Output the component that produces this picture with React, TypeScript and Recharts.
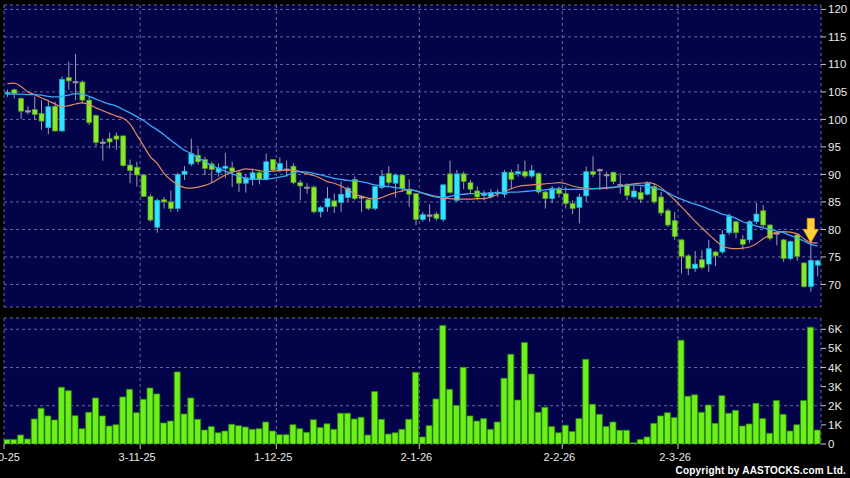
import {
  ComposedChart,
  Bar,
  Line,
  XAxis,
  YAxis,
  CartesianGrid,
  ReferenceDot,
} from "recharts";

// trading days, d-m-yy
const dates = [
  "2-10-25", "3-10-25", "6-10-25", "8-10-25", "9-10-25", "10-10-25", "13-10-25", "14-10-25", "15-10-25", "16-10-25",
  "17-10-25", "20-10-25", "21-10-25", "22-10-25", "23-10-25", "24-10-25", "27-10-25", "28-10-25", "30-10-25", "31-10-25",
  "3-11-25", "4-11-25", "5-11-25", "6-11-25", "7-11-25", "10-11-25", "11-11-25", "12-11-25", "13-11-25", "14-11-25",
  "17-11-25", "18-11-25", "19-11-25", "20-11-25", "21-11-25", "24-11-25", "25-11-25", "26-11-25", "27-11-25", "28-11-25",
  "1-12-25", "2-12-25", "3-12-25", "4-12-25", "5-12-25", "8-12-25", "9-12-25", "10-12-25", "11-12-25", "12-12-25",
  "15-12-25", "16-12-25", "17-12-25", "18-12-25", "19-12-25", "22-12-25", "23-12-25", "24-12-25", "29-12-25", "30-12-25",
  "31-12-25", "2-1-26", "5-1-26", "6-1-26", "7-1-26", "8-1-26", "9-1-26", "12-1-26", "13-1-26", "14-1-26",
  "15-1-26", "16-1-26", "19-1-26", "20-1-26", "21-1-26", "22-1-26", "23-1-26", "26-1-26", "27-1-26", "28-1-26",
  "29-1-26", "30-1-26", "2-2-26", "3-2-26", "4-2-26", "5-2-26", "6-2-26", "9-2-26", "10-2-26", "11-2-26",
  "12-2-26", "13-2-26", "16-2-26", "20-2-26", "23-2-26", "24-2-26", "25-2-26", "26-2-26", "27-2-26", "2-3-26",
  "3-3-26", "4-3-26", "5-3-26", "6-3-26", "9-3-26", "10-3-26", "11-3-26", "12-3-26", "13-3-26", "16-3-26",
  "17-3-26", "18-3-26", "19-3-26", "20-3-26", "23-3-26", "24-3-26", "25-3-26", "26-3-26", "27-3-26", "30-3-26",
];

const opens = [
  104.6, 105.4, 103.8, 101.6, 101.8, 101.1, 98.5, 102.4, 97.9, 107.6,
  106.9, 106.8, 103.5, 100.7, 95.9, 96.5, 97.0, 97.0, 91.7, 91.3,
  89.9, 86.0, 80.4, 85.4, 85.0, 83.8, 90.0, 91.9, 93.5, 92.7,
  91.9, 90.4, 91.1, 91.2, 90.3, 88.4, 89.1, 90.3, 89.1, 92.7,
  90.7, 91.0, 91.5, 88.5, 87.7, 87.7, 83.2, 84.1, 85.2, 84.9,
  85.8, 89.1, 85.95, 85.4, 83.8, 87.6, 90.2, 88.4, 89.9, 87.3,
  86.5, 81.8, 82.5, 82.8, 81.8, 90.1, 85.3, 90.1, 88.5, 87.0,
  86.2, 85.9, 86.5, 86.4, 90.4, 90.1, 90.5, 89.7, 90.2, 86.8,
  85.6, 87.5, 86.5, 84.7, 84.0, 86.1, 90.5, 90.9, 89.9, 90.4,
  88.2, 88.1, 85.9, 86.7, 86.4, 87.8, 85.9, 83.4, 81.6, 78.1,
  75.2, 72.9, 74.5, 73.7, 75.9, 75.9, 79.4, 81.4, 78.2, 78.1,
  81.4, 83.4, 80.8, 79.4, 78.1, 74.7, 79.0, 73.9, 69.6, 73.5,
];

const highs = [
  105.4, 105.6, 104.0, 102.4, 104.2, 103.5, 103.5, 103.2, 107.8, 110.5,
  111.9, 107.1, 104.1, 100.9, 96.5, 97.6, 97.6, 97.1, 92.7, 92.3,
  90.0, 86.4, 85.6, 85.9, 87.1, 90.3, 91.5, 96.5, 94.7, 93.2,
  92.3, 92.0, 93.9, 92.3, 90.6, 90.0, 91.1, 90.6, 93.8, 92.8,
  93.1, 92.5, 92.0, 89.0, 88.4, 88.0, 84.3, 87.7, 86.5, 88.7,
  87.8, 89.6, 86.2, 85.6, 88.0, 90.8, 91.5, 90.2, 90.1, 89.1,
  86.6, 83.2, 84.6, 83.2, 88.3, 92.5, 90.8, 90.5, 89.0, 87.8,
  87.1, 87.3, 87.3, 90.8, 90.9, 91.9, 92.5, 91.7, 90.4, 87.0,
  87.9, 87.8, 87.8, 85.3, 86.5, 91.4, 93.3, 91.1, 90.5, 90.5,
  90.2, 88.4, 88.1, 87.8, 88.7, 88.4, 86.8, 83.8, 83.2, 78.3,
  75.5, 76.1, 76.2, 78.1, 76.1, 79.9, 82.9, 81.6, 79.0, 81.7,
  84.8, 84.4, 81.0, 79.6, 78.3, 78.0, 79.3, 74.1, 78.7, 74.5,
];

const lows = [
  104.1, 103.8, 100.1, 100.9, 99.9, 98.1, 97.3, 97.8, 97.8, 105.4,
  103.5, 102.9, 99.0, 95.1, 92.5, 94.7, 94.5, 91.4, 88.4, 87.8,
  85.9, 81.4, 79.4, 83.8, 83.2, 83.2, 89.0, 91.5, 91.8, 89.9,
  88.5, 89.6, 89.3, 87.7, 86.8, 86.7, 88.0, 88.2, 88.9, 90.5,
  90.4, 89.6, 88.2, 85.3, 86.5, 82.9, 82.2, 83.2, 83.0, 83.2,
  85.0, 85.3, 83.2, 83.5, 83.5, 87.3, 88.0, 85.8, 86.8, 84.1,
  80.8, 81.4, 81.4, 81.6, 81.4, 86.5, 85.0, 87.3, 86.5, 85.3,
  85.3, 85.6, 85.9, 85.8, 87.3, 89.6, 89.3, 89.3, 86.5, 83.8,
  84.8, 85.8, 83.8, 82.8, 81.1, 85.0, 89.5, 87.2, 87.2, 88.2,
  86.5, 85.3, 85.6, 84.8, 86.2, 84.7, 82.5, 80.5, 78.1, 72.0,
  71.7, 72.3, 72.8, 72.3, 73.3, 75.6, 79.0, 78.4, 76.3, 77.5,
  81.0, 80.4, 78.0, 77.1, 74.1, 74.4, 74.3, 69.4, 68.7, 71.5,
];

const closes = [
  104.9, 104.7, 101.5, 101.5, 100.9, 99.7, 102.3, 97.9, 107.3, 107.0,
  106.8, 103.5, 99.4, 95.8, 95.7, 95.9, 96.4, 91.6, 90.7, 89.9,
  86.0, 81.7, 85.3, 85.0, 83.8, 90.0, 90.6, 93.8, 92.3, 91.1,
  90.9, 91.2, 91.5, 90.5, 88.4, 89.4, 90.3, 89.1, 92.3, 90.8,
  92.0, 90.85, 88.5, 87.9, 87.5, 83.2, 84.0, 85.6, 84.2, 86.4,
  87.5, 85.6, 85.8, 83.8, 87.8, 89.7, 88.5, 89.9, 87.4, 86.4,
  81.8, 82.7, 82.65, 82.0, 88.1, 86.7, 90.1, 88.7, 87.3, 85.9,
  86.5, 86.7, 86.8, 90.4, 89.1, 90.5, 89.7, 90.7, 86.8, 85.6,
  87.5, 86.5, 84.7, 83.8, 85.9, 90.5, 90.0, 90.7, 90.0, 88.7,
  88.0, 86.2, 87.0, 85.5, 88.4, 85.0, 83.0, 80.8, 78.7, 75.1,
  72.9, 73.7, 73.1, 76.5, 75.2, 79.1, 82.4, 79.4, 77.3, 81.4,
  82.8, 80.8, 78.4, 79.2, 74.7, 77.8, 75.1, 69.6, 74.4, 74.3,
];

// 10-day (orange) and 20-day (blue) moving averages
const ma10 = [
  106.5, 106.6, 106.0, 105.0, 104.5, 103.9, 103.4, 102.8, 102.3, 102.5,
  102.8, 103.0, 102.7, 102.1, 101.6, 101.1, 100.6, 100.2, 99.2, 97.2,
  95.2, 93.2, 92.0, 90.2, 89.0, 88.2, 87.6, 87.5, 87.7, 88.0,
  88.5, 89.2, 89.9, 90.4, 90.7, 91.0, 90.9, 90.7, 90.5, 90.6,
  90.7, 90.8, 90.8, 90.5, 90.1, 89.8, 89.3, 88.7, 88.4, 87.9,
  87.2, 86.5, 86.0, 85.7, 85.5, 85.8, 86.3, 86.7, 87.0, 87.3,
  87.0, 86.6, 86.2, 85.9, 85.7, 85.6, 85.5, 85.5, 85.5, 85.6,
  85.6, 85.9, 86.4, 86.9, 87.4, 87.8, 88.0, 88.1, 88.2, 88.3,
  88.4, 88.5, 88.3, 87.9, 87.6, 87.5, 87.4, 87.4, 87.5, 87.6,
  87.8, 88.1, 88.3, 88.4, 88.5, 88.3, 87.6, 86.5, 85.4, 84.1,
  82.8, 81.5, 80.3, 79.1, 78.0, 77.0, 76.6, 76.5, 76.6, 76.8,
  77.4, 78.3, 79.0, 79.5, 79.6, 79.5, 79.2, 78.3, 77.6, 77.5,
];

const ma20 = [
  104.7, 104.6, 104.6, 104.5, 104.5, 104.4, 104.2, 104.1, 104.2, 104.4,
  104.7, 104.6, 104.2, 103.7, 103.2, 102.8, 102.4, 101.8, 101.2, 100.5,
  99.8, 98.9, 98.1, 97.2, 96.2, 95.3, 94.4, 93.8, 93.0, 92.3,
  91.6, 91.1, 90.6, 90.1, 89.7, 89.3, 89.1, 89.1, 89.1, 89.3,
  89.5, 89.8, 90.3, 90.5, 90.4, 90.2, 89.9, 89.6, 89.3, 89.1,
  88.9, 88.8, 88.7, 88.4, 88.1, 87.9, 87.8, 87.6, 87.4, 87.2,
  87.0, 86.6, 86.3, 86.0, 85.8, 86.0, 86.3, 86.4, 86.5, 86.5,
  86.6, 86.6, 86.7, 86.7, 86.8, 86.8, 86.9, 87.0, 87.1, 87.2,
  87.3, 87.3, 87.3, 87.3, 87.3, 87.3, 87.4, 87.5, 87.6, 87.7,
  87.8, 88.0, 88.1, 88.0, 87.8, 87.5, 87.2, 86.7, 86.0, 85.5,
  85.0, 84.6, 84.2, 83.7, 83.3, 82.8, 82.5, 82.0, 81.4, 81.0,
  80.6, 80.3, 80.0, 79.7, 79.4, 78.9, 78.4, 77.9, 77.3, 77.0,
];

const volumes = [
  240, 240, 470, 260, 1310, 1870, 1470, 1260, 2970, 2790,
  1480, 800, 1660, 2410, 1470, 940, 1010, 2460, 2860, 1640,
  2340, 2930, 2620, 1100, 1200, 3770, 1570, 2410, 1290, 730,
  910, 590, 680, 1030, 960, 890, 770, 800, 1150, 680,
  490, 490, 1010, 800, 610, 1270, 860, 1060, 770, 1610,
  1610, 1310, 1400, 470, 2740, 1290, 520, 590, 770, 1290,
  3750, 370, 960, 2360, 6200, 2860, 2020, 4010, 1470, 1200,
  1330, 770, 1150, 3440, 4690, 2300, 5310, 3660, 1660, 1920,
  910, 590, 980, 650, 1330, 4430, 2080, 1550, 910, 1150,
  720, 720, 70, 240, 370, 1080, 1470, 1640, 1380, 5430,
  2500, 2570, 1660, 2040, 1080, 2530, 1610, 1760, 940, 1050,
  2130, 1330, 560, 2270, 1550, 680, 1010, 2270, 6110, 730,
];

const tickLabels = ["2-10-25", "3-11-25", "1-12-25", "2-1-26", "2-2-26", "2-3-26"];
const priceTicks = [70, 75, 80, 85, 90, 95, 100, 105, 110, 115, 120];
const volumeTicks = [0, 1000, 2000, 3000, 4000, 5000, 6000];
const arrowDate = "27-3-26";
const arrowPrice = 82;

const rows = dates.map((date, i) => ({
  idx: i,
  date,
  open: opens[i],
  high: highs[i],
  low: lows[i],
  close: closes[i],
  ma10: ma10[i],
  ma20: ma20[i],
  volume: volumes[i],
}));

const dateTicks = tickLabels.map((l) => dates.indexOf(l));

const BG = "#03034a";
const GRID = "#6a6a9c";
const TEXT = "#e8e8e8";

const Candle = (props: any) => {
  const { x, y, width, height, payload } = props;
  const { open, close, high, low } = payload;
  const top0 = Math.min(y, y + height);
  const h = Math.abs(height);
  const per = high > low ? h / (high - low) : 0;
  const yOf = (v: number) => top0 + (high - v) * per;
  const cx = x + width / 2;
  const bTop = yOf(Math.max(open, close));
  const bBot = yOf(Math.min(open, close));
  const flat = Math.abs(close - open) < 0.25;
  const up = close > open;
  const fill = flat ? "#a4a4b0" : up ? "#35e2ff" : "#86e82e";
  const edge = flat ? "#8a8a96" : up ? "#1aa8c8" : "#4f9a1e";
  return (
    <g>
      <line x1={cx} x2={cx} y1={top0} y2={top0 + h} stroke="#9c9cb2" strokeWidth={1} />
      <rect
        x={x}
        y={bTop}
        width={width}
        height={Math.max(1.5, bBot - bTop)}
        fill={fill}
        stroke={edge}
        strokeWidth={0.7}
      />
    </g>
  );
};

const Arrow = (props: any) => {
  const { cx, cy } = props;
  return (
    <path
      d={`M${cx - 3.5},${cy} h7 v11 h4 l-7.5,13 l-7.5,-13 h4 z`}
      fill="#ffd23c"
      stroke="#f0a000"
      strokeWidth={1}
    />
  );
};

export default function App() {
  return (
    <div
      style={{
        position: "absolute",
        left: 0,
        top: 0,
        width: 850,
        height: 478,
        background: "#000",
        overflow: "hidden",
        fontFamily: "'Liberation Sans', Arial, sans-serif",
      }}
    >
      <div style={{ position: "absolute", left: 0, top: 0 }}>
        <ComposedChart
          width={850}
          height={312}
          data={rows}
          margin={{ top: 5, right: 0, bottom: 5, left: 4 }}
        >
          <CartesianGrid
            xAxisId="num"
            stroke={GRID}
            strokeDasharray="3 3"
            fill={BG}
            fillOpacity={1}
          />
          <XAxis
            xAxisId="num"
            type="number"
            dataKey="idx"
            domain={[0, dates.length]}
            ticks={dateTicks}
            allowDataOverflow
            height={0}
            hide
          />
          <XAxis xAxisId="cat" dataKey="date" height={0} hide />
          <YAxis
            orientation="right"
            width={29}
            domain={[65.9, 120.8]}
            allowDataOverflow
            ticks={priceTicks}
            axisLine={false}
            tickSize={5}
            tickMargin={2}
            tickLine={{ stroke: "#c8c8c8" }}
            tick={{ fill: TEXT, fontSize: 11.5 }}
          />
          <Bar
            xAxisId="cat"
            dataKey={(d: any) => [d.low, d.high]}
            shape={Candle}
            barSize={5}
            isAnimationActive={false}
          />
          <Line
            xAxisId="cat"
            type="monotone"
            dataKey="ma10"
            stroke="#e2895e"
            strokeWidth={1.2}
            dot={false}
            isAnimationActive={false}
          />
          <Line
            xAxisId="cat"
            type="monotone"
            dataKey="ma20"
            stroke="#3aaaf0"
            strokeWidth={1.3}
            dot={false}
            isAnimationActive={false}
          />
          <ReferenceDot xAxisId="cat" x={arrowDate} y={arrowPrice} shape={Arrow} />
        </ComposedChart>
      </div>

      <div style={{ position: "absolute", left: 0, top: 312 }}>
        <ComposedChart
          width={850}
          height={166}
          data={rows}
          margin={{ top: 6, right: 0, bottom: 0, left: 4 }}
        >
          <CartesianGrid
            xAxisId="num"
            stroke={GRID}
            strokeDasharray="3 3"
            fill={BG}
            fillOpacity={1}
          />
          <XAxis
            xAxisId="num"
            type="number"
            dataKey="idx"
            domain={[0, dates.length]}
            ticks={dateTicks}
            allowDataOverflow
            interval={0}
            height={34}
            axisLine={false}
            tickSize={5}
            tickMargin={4}
            tickLine={{ stroke: "#c8c8c8" }}
            tick={{ fill: TEXT, fontSize: 11, dx: -3 }}
            tickFormatter={(v: number) => dates[v]}
          />
          <XAxis xAxisId="cat" dataKey="date" height={0} hide />
          <YAxis
            orientation="right"
            width={29}
            domain={[0, 6590]}
            allowDataOverflow
            ticks={volumeTicks}
            axisLine={false}
            tickSize={5}
            tickMargin={2}
            tickLine={{ stroke: "#c8c8c8" }}
            tick={{ fill: TEXT, fontSize: 11.5 }}
            tickFormatter={(v: number) => (v === 0 ? "0" : `${v / 1000}K`)}
          />
          <Bar
            xAxisId="cat"
            dataKey="volume"
            fill="#6cf01c"
            stroke="#2f8a0a"
            strokeWidth={0.8}
            barSize={6}
            isAnimationActive={false}
          />
        </ComposedChart>
      </div>

      <div
        style={{
          position: "absolute",
          right: 4,
          top: 465,
          color: "#fff",
          fontSize: 10,
          fontWeight: "bold",
          letterSpacing: 0.2,
          lineHeight: "12px",
        }}
      >
        Copyright by AASTOCKS.com Ltd.
      </div>
    </div>
  );
}
